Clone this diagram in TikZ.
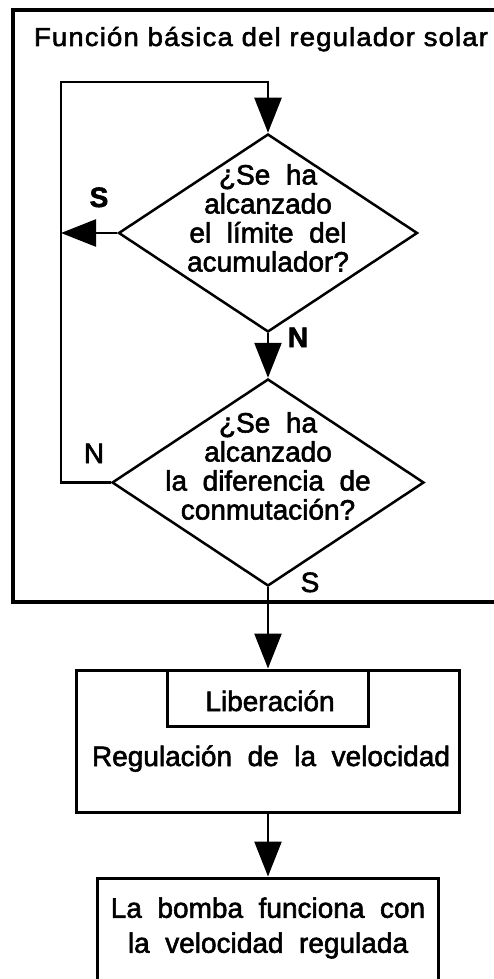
\documentclass[tikz,border=0pt]{standalone}
\usepackage{fontspec}
\usepackage{graphicx}
\setmainfont{Liberation Sans}[WordSpace=2,FakeBold=2]
\newfontfamily\titlefont{Liberation Sans}[FakeBold=2,LetterSpace=4]
\usetikzlibrary{arrows.meta,shapes.geometric}
\begin{document}
\begin{tikzpicture}[x=1pt,y=-1pt,
  txt/.style={inner sep=0pt, font=\fontsize{28}{29}\selectfont},
  lbl/.style={inner sep=0pt, anchor=base, font=\fontsize{28}{29}\selectfont},
  lblb/.style={inner sep=0pt, anchor=base, font=\fontsize{28}{29}\selectfont\bfseries},
  dia/.style={diamond, draw, line width=2.5pt, inner sep=0pt},
  box/.style={draw, rectangle, line width=3pt, inner sep=0pt},
  conn/.style={line width=2.5pt},
  arr/.style={conn, -{Triangle[length=35pt,width=27pt]}},
  frame/.style={line width=3.5pt}]
\useasboundingbox (0,0) rectangle (494,979);
\fill[white] (0,0) rectangle (494,979);
\draw[frame] (13,10) rectangle (530,602);
\node[inner sep=0pt, anchor=base] (title) at (261,46)
  {\resizebox{454pt}{\height}{\titlefont\fontsize{26}{29}\selectfont Función básica del regulador solar}};
% decisions
\node[dia, minimum width=299pt, minimum height=198pt] (d1) at (268,233) {};
\node[txt, align=center] (t1) at (268,218) {¿Se ha\\alcanzado\\el límite del\\acumulador?};
\node[dia, minimum width=312pt, minimum height=207pt] (d2) at (268,482.5) {};
\node[txt, align=center] (t2) at (268,466) {¿Se ha\\alcanzado\\la diferencia de\\conmutación?};
% boxes
\node[box, minimum width=383pt, minimum height=142pt] (b1) at (268,741) {};
\node[box, minimum width=201pt, minimum height=56pt] (lib) at (268,698) {};
\node[lbl] (tlib) at (270,711) {Liberación};
\node[lbl] (treg) at (271,766) {Regulación de la velocidad};
\node[box, minimum width=341pt, minimum height=140pt] (b2) at (268,948) {};
\node[txt, align=center, font=\fontsize{28}{35}\selectfont] (t3) at (268,928) {La bomba funciona con\\la velocidad regulada};
% connectors
\coordinate (lt) at (61,82);
\draw[arr] (d2.west) -| (lt) -| (d1.north);
\draw[arr] (d1.west) -- (d1.west -| lt);
\draw[arr] (d1.south) -- (d2.north);
\draw[arr] (d2.south) -- (b1.north);
\draw[arr] (b1.south) -- (b2.north);
% labels
\node[lblb] (s1) at (99,207) {S};
\node[lblb] (n1) at (298,347) {N};
\node[lbl] (n2) at (94,463) {N};
\node[lbl] (s2) at (310,592) {S};
\end{tikzpicture}
\end{document}
